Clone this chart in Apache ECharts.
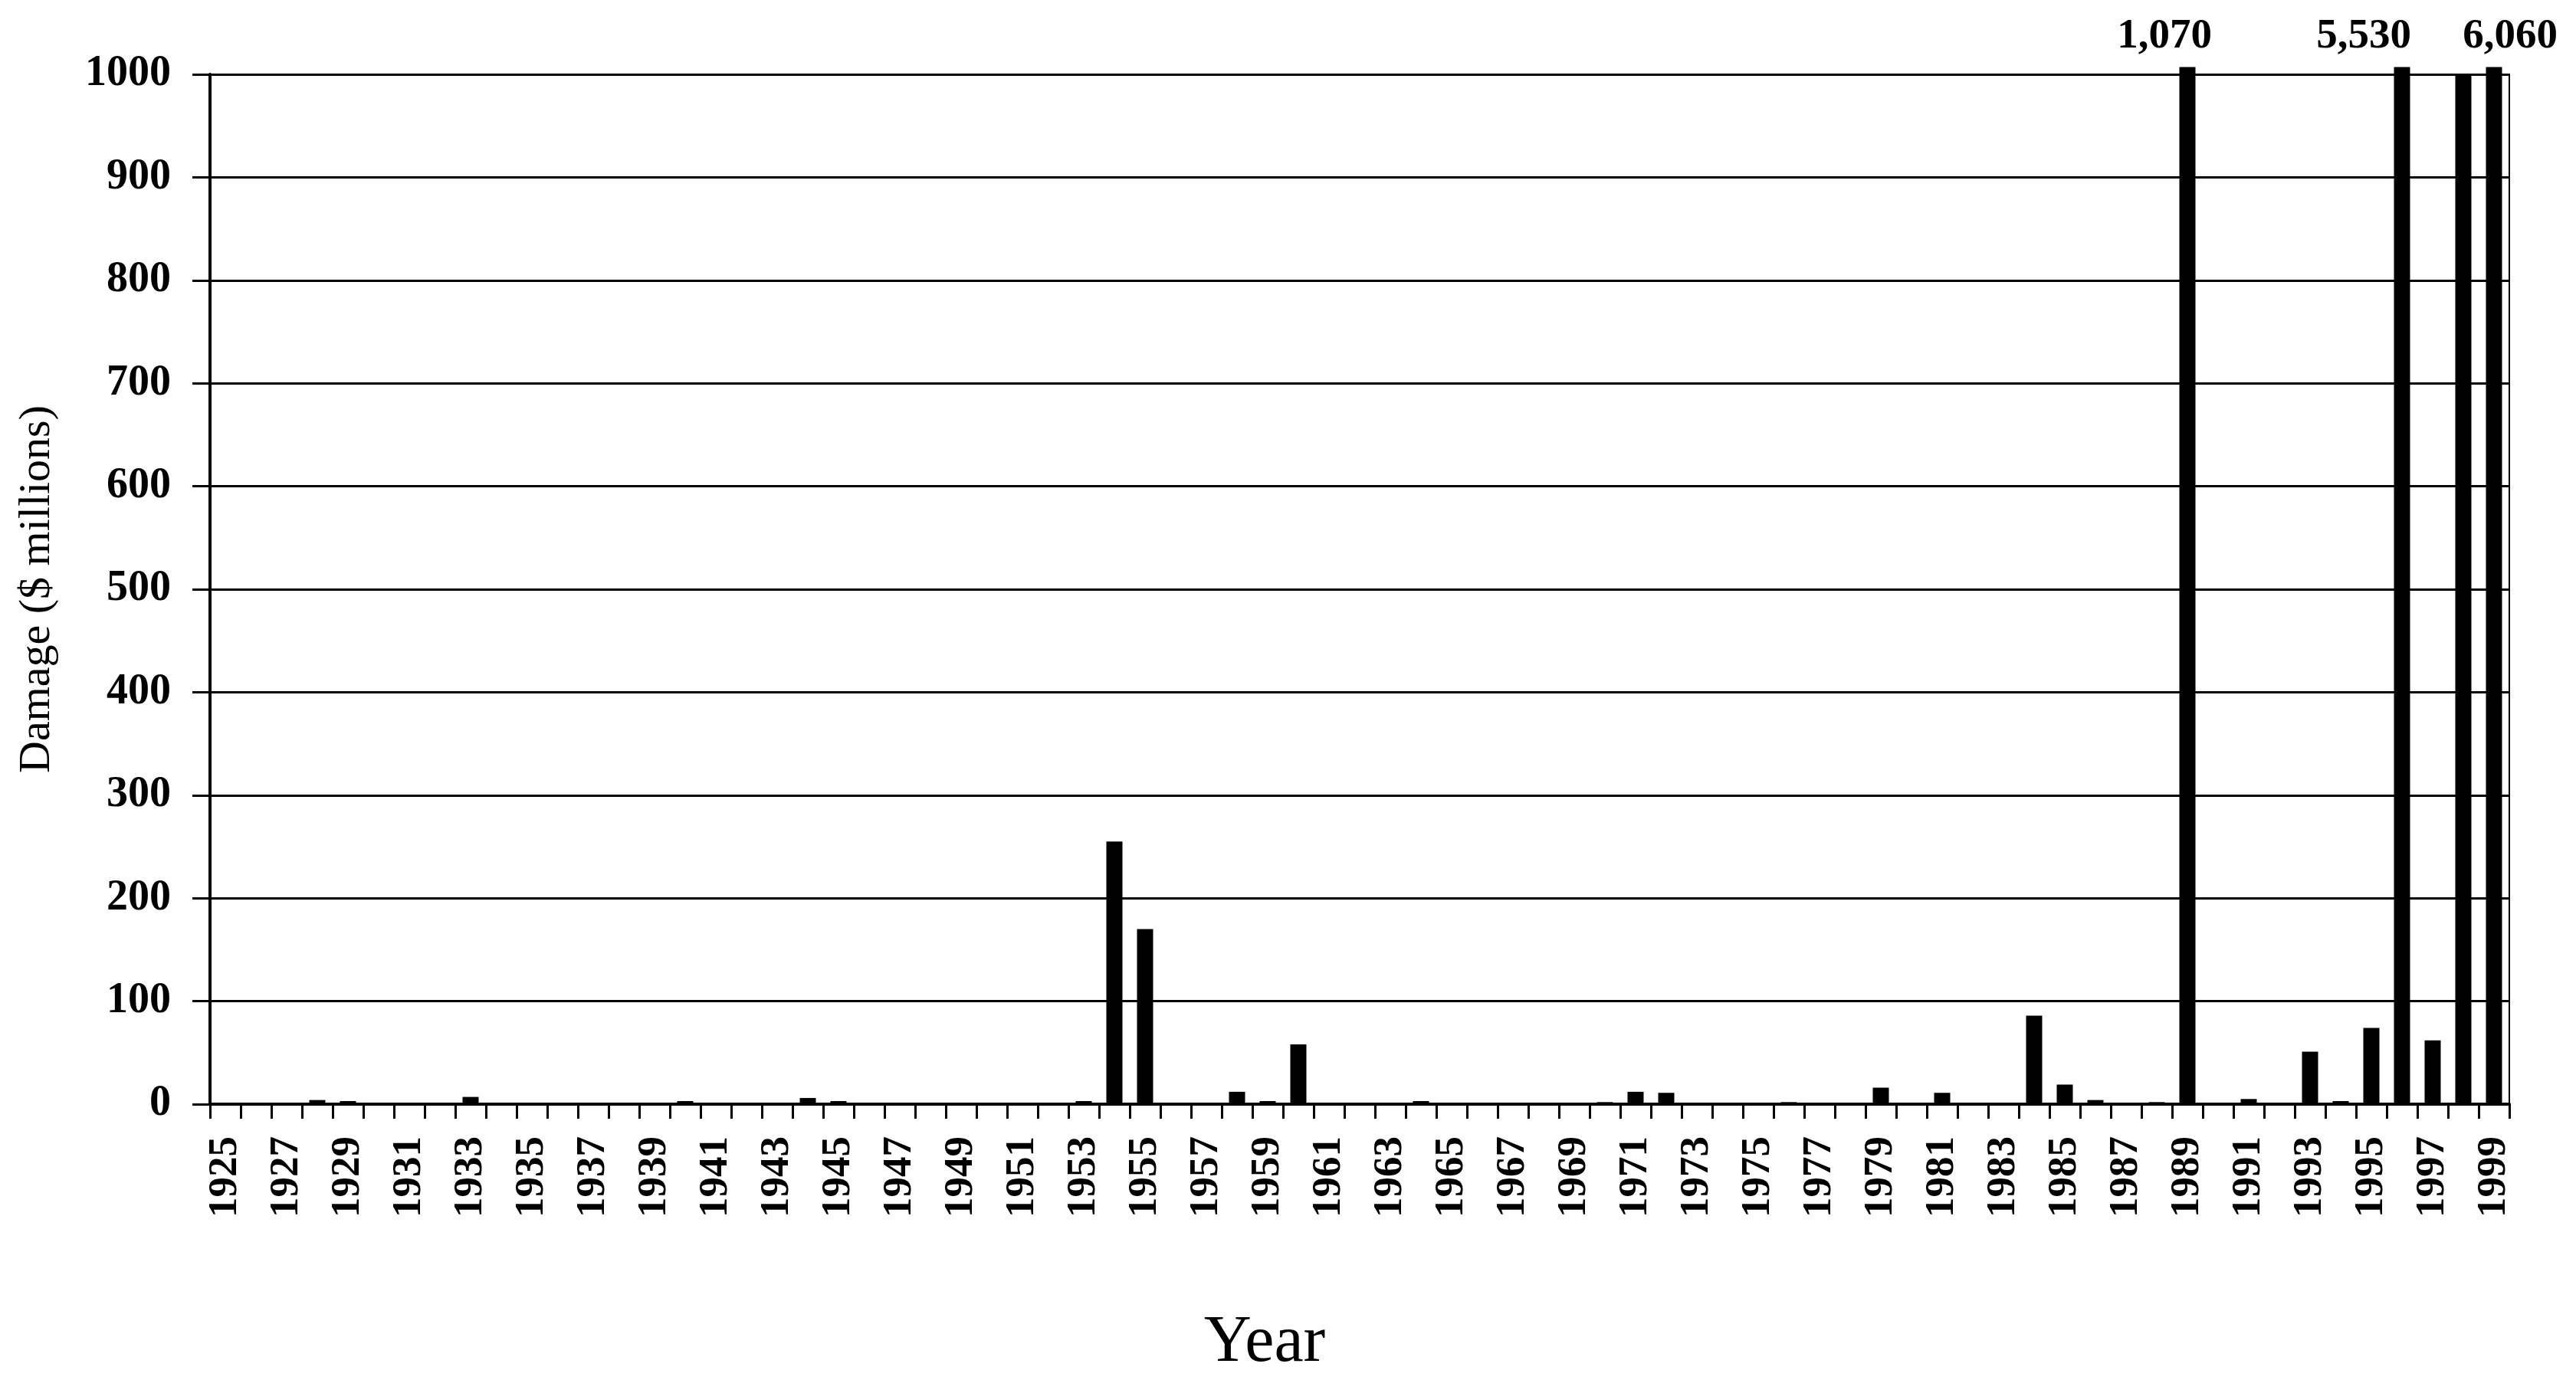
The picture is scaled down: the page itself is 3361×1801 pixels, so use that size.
<!DOCTYPE html>
<html>
<head>
<meta charset="utf-8">
<script src="https://cdn.jsdelivr.net/npm/echarts@6/dist/echarts.min.js"></script>
<style>
  html, body { margin: 0; padding: 0; background: #fff; }
  #chart { width: 3361px; height: 1801px; }
</style>
</head>
<body>
<div id="chart"></div>
<script>
// ---- data ----
const years = [];
for (let y = 1925; y <= 1999; y++) years.push(String(y));

// Damage in $ millions, one per year 1925..1999
const damage = [
  0, 0, 0, 4, 3, 0, 0, 0, 7, 0,        // 1925-1934
  0, 0, 0, 0, 0, 3, 0, 0, 0, 6,        // 1935-1944
  3, 0, 0, 0, 0, 0, 0, 0, 3, 255,      // 1945-1954
  170, 0, 0, 12, 3, 58, 0, 0, 0, 3,    // 1955-1964
  0, 0, 0, 0, 0, 2, 12, 11, 0, 0,      // 1965-1974
  0, 2, 0, 0, 16, 0, 11, 0, 0, 86,     // 1975-1984
  19, 4, 0, 2, 1070, 0, 5, 0, 51, 3,   // 1985-1994
  74, 5530, 62, 1000, 6060             // 1995-1999
];

const yTicks = [0, 100, 200, 300, 400, 500, 600, 700, 800, 900, 1000];

// ---- presentation ----
const CAP = 1007;            // bars beyond the axis are drawn just past the top line
const labelOffsetX = { '1989': -30, '1996': -50, '1999': 21 };
const serif = 'Liberation Serif';

const barData = damage.map((v, i) => {
  const item = { value: Math.min(v, CAP), actual: v };
  if (v > 1000) {
    item.label = { show: true, offset: [labelOffsetX[years[i]] || 0, 0] };
  }
  return item;
});

const chart = echarts.init(document.getElementById('chart'), null, { renderer: 'canvas' });
chart.setOption({
  animation: false,
  backgroundColor: '#ffffff',
  grid: {
    left: 274, right: 87, top: 97, bottom: 360,
    show: true, borderColor: '#000', borderWidth: 2, backgroundColor: 'transparent'
  },
  xAxis: {
    type: 'category',
    data: years,
    boundaryGap: true,
    axisLine: { show: true, lineStyle: { color: '#000', width: 4 } },
    axisTick: { show: true, interval: 0, length: 19, lineStyle: { color: '#000', width: 3 } },
    axisLabel: {
      interval: 1, rotate: 90, margin: 42,
      color: '#000', fontFamily: serif, fontWeight: 'bold', fontSize: 53
    },
    splitLine: { show: false }
  },
  yAxis: {
    type: 'value',
    min: yTicks[0], max: yTicks[yTicks.length - 1], interval: 100,
    name: 'Damage ($ millions)',
    nameLocation: 'middle',
    nameGap: 196,
    nameTextStyle: { color: '#000', fontFamily: serif, fontSize: 58 },
    axisLine: { show: true, lineStyle: { color: '#000', width: 4 } },
    axisTick: { show: true, length: 23, lineStyle: { color: '#000', width: 3 } },
    axisLabel: {
      margin: 51, color: '#000', fontFamily: serif, fontWeight: 'bold', fontSize: 56,
      formatter: v => String(v)
    },
    splitLine: { show: true, lineStyle: { color: '#000', width: 3 } }
  },
  series: [{
    type: 'bar',
    data: barData,
    barWidth: 21,
    clip: false,
    itemStyle: { color: '#000' },
    label: {
      show: false,
      position: 'top',
      distance: 12,
      color: '#000', fontFamily: serif, fontWeight: 'bold', fontSize: 55,
      formatter: p => p.data.actual.toLocaleString('en-US')
    }
  }],
  graphic: [{
    type: 'text',
    x: 1650, y: 1753,
    style: {
      text: 'Year', fill: '#000', font: '86px "Liberation Serif"',
      textAlign: 'center', textVerticalAlign: 'middle'
    }
  }]
});
</script>
</body>
</html>
